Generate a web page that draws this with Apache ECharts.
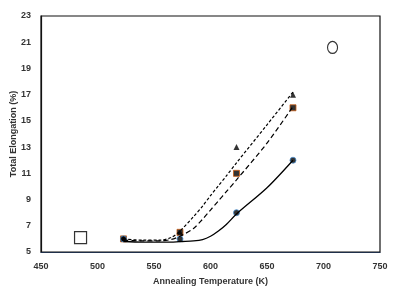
<!DOCTYPE html>
<html><head><meta charset="utf-8">
<script src="https://cdn.jsdelivr.net/npm/echarts@6/dist/echarts.min.js"></script>
<style>html,body{margin:0;padding:0;background:#fff}#c{width:398px;height:294px}</style>
</head><body><div id="c"></div>
<script>
const temps = [523, 573, 623, 673];
const triVals = [6.0, 6.5, 13.0, 17.0];
const sqVals = [6.0, 6.5, 11.0, 16.0];
const circVals = [6.0, 6.0, 8.0, 12.0];
const fitX = [523, 540, 555, 565, 573, 585, 593, 600, 607, 614, 623, 650, 673];
const fitTop = [6.0, 5.9, 5.9, 6.1, 6.6, 7.7, 8.5, 9.3, 10.05, 10.8, 11.8, 14.7, 17.2];
const fitMid = [5.9, 5.85, 5.85, 5.95, 6.2, 6.8, 7.5, 8.2, 8.9, 9.6, 10.5, 13.3, 16.1];
const fitSolid = [5.8, 5.75, 5.75, 5.75, 5.8, 5.85, 5.95, 6.2, 6.6, 7.1, 7.9, 9.9, 12.0];
const strayX = [485, 708];
const strayY = [6.1, 20.6];
const xTicks = [450, 500, 550, 600, 650, 700, 750];
const yTicks = [5, 7, 9, 11, 13, 15, 17, 19, 21, 23];

const zip = (a, b) => a.map((v, i) => [v, b[i]]);
const font = 'Liberation Sans';
const chart = echarts.init(document.getElementById('c'));
chart.setOption({
  animation: false,
  grid: {left: 41, right: 18, top: 16, bottom: 42, show: true, borderColor: '#111', borderWidth: 1.2,
    outerBoundsMode: 'none', containLabel: false},
  xAxis: {type: 'value', min: xTicks[0], max: xTicks[xTicks.length-1], interval: 50,
    name: 'Annealing Temperature (K)', nameLocation: 'middle', nameGap: 25, nameMoveOverlap: false,
    nameTextStyle: {fontFamily: font, fontWeight: 'bold', fontSize: 9, color: '#333'},
    axisLine: {show: true, lineStyle: {color: '#1f2f4a', width: 1.2}}, axisTick: {show: false},
    splitLine: {show: false},
    axisLabel: {fontFamily: font, fontWeight: 'bold', fontSize: 9, color: '#333', margin: 10}},
  yAxis: {type: 'value', min: yTicks[0], max: yTicks[yTicks.length-1], interval: 2,
    name: 'Total Elongation (%)', nameLocation: 'middle', nameGap: 23, nameRotate: 90, nameMoveOverlap: false,
    nameTextStyle: {fontFamily: font, fontWeight: 'bold', fontSize: 9, color: '#333'},
    axisLine: {show: true, lineStyle: {color: '#111', width: 1.2}}, axisTick: {show: false},
    splitLine: {show: false},
    axisLabel: {fontFamily: font, fontWeight: 'bold', fontSize: 9, color: '#333', margin: 10}},
  series: [
    {type: 'line', data: zip(fitX, fitTop), smooth: 0.3, symbol: 'none',
      lineStyle: {color: '#000', width: 1.2, type: [3, 2]}},
    {type: 'line', data: zip(fitX, fitMid), smooth: 0.3, symbol: 'none',
      lineStyle: {color: '#000', width: 1.2, type: [5, 3]}},
    {type: 'line', data: zip(fitX, fitSolid), smooth: 0.3, symbol: 'none',
      lineStyle: {color: '#000', width: 1.3}},
    {type: 'scatter', data: zip(temps, triVals), symbol: 'triangle', symbolSize: 6,
      itemStyle: {color: '#000'}},
    {type: 'scatter', data: zip(temps, sqVals), symbol: 'rect', symbolSize: 6,
      itemStyle: {color: '#000', borderColor: '#c55a11', borderWidth: 1}},
    {type: 'scatter', data: zip(temps, circVals), symbol: 'circle', symbolSize: 6,
      itemStyle: {color: '#000', borderColor: '#4a8fd0', borderWidth: 1}},
    {type: 'scatter', data: [[strayX[0], strayY[0]]], symbol: 'rect', symbolSize: 12,
      itemStyle: {color: '#fff', borderColor: '#000', borderWidth: 1.2}},
    {type: 'scatter', data: [[strayX[1], strayY[1]]], symbol: 'circle', symbolSize: [10, 12],
      itemStyle: {color: '#fff', borderColor: '#000', borderWidth: 1.2}}
  ]
});
</script></body></html>
